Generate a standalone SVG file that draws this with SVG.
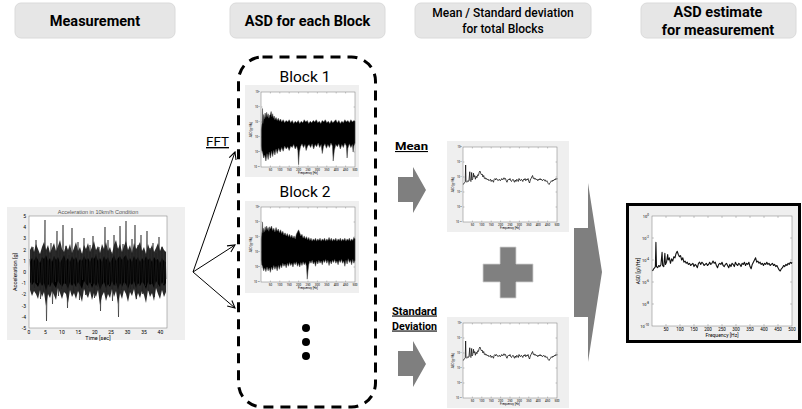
<svg xmlns="http://www.w3.org/2000/svg" xmlns:xlink="http://www.w3.org/1999/xlink" width="802" height="409" viewBox="0 0 802 409">
<style>
text{font-family:Roboto,"Liberation Sans",sans-serif;fill:#000}
.hb{fill:#e6e6e6;stroke:#dadada;stroke-width:1}
.ht{font-weight:700;font-size:14.5px;text-anchor:middle}
.panel{fill:#efefef}
.frame{fill:#fff;stroke:#777;stroke-width:0.5}
.tk{stroke:#777;stroke-width:0.4;fill:none}
.tl{font-family:"Liberation Sans",Arial,sans-serif;fill:#555;text-anchor:middle}
.tr{font-family:"Liberation Sans",Arial,sans-serif;fill:#555;text-anchor:end}
.curve{fill:none;stroke:#111;vector-effect:non-scaling-stroke;stroke-linejoin:round}
.noise{fill:#000;stroke:#444;stroke-width:0.5;vector-effect:non-scaling-stroke;stroke-linejoin:round}
.garrow{fill:#7f7f7f}
.lbl{font-weight:700;font-size:11px;text-decoration:underline}
.conn{stroke:#000;stroke-width:1;fill:none}
</style>
<defs>
<marker id="ah" viewBox="0 0 10 10" refX="9" refY="5" markerWidth="9" markerHeight="9" markerUnits="userSpaceOnUse" orient="auto">
<path d="M1,1 L9,5 L1,9" fill="none" stroke="#000" stroke-width="1.2"/>
</marker>
<path id="asd" class="curve" d="M2,50 L6,48 L10,47 L12,46 L14,24 L16,46 L20,47 L24,45 L28,46 L32,44 L36,33 L38,45 L42,46 L46,34 L48,44 L52,42 L56,35 L58,40 L62,38 L66,43 L70,39 L74,41 L78,37 L82,38 L86,34 L90,32 L94,35 L98,37 L102,36 L106,40 L110,38 L114,42 L118,41 L122,43 L126,42 L130,44 L134,43 L138,45 L142,44 L146,43 L150,46 L154,44 L158,45 L162,47 L166,43 L170,42 L174,44 L178,42 L182,43 L186,45 L190,44 L194,43 L198,45 L202,44 L206,42 L210,44 L214,43 L218,41 L222,43 L226,42 L230,45 L234,47 L238,44 L242,43 L246,44 L250,42 L254,45 L258,46 L262,44 L266,43 L270,45 L274,47 L278,44 L282,46 L286,43 L290,44 L294,46 L298,42 L302,44 L306,45 L310,43 L314,44 L318,46 L322,43 L326,44 L330,42 L334,45 L338,43 L342,44 L346,42 L350,46 L354,48 L358,44 L362,42 L366,40 L370,38 L374,42 L378,41 L382,43 L386,42 L390,44 L394,43 L398,45 L402,43 L406,44 L410,42 L414,44 L418,43 L422,45 L426,44 L430,43 L434,45 L438,44 L442,46 L446,45 L450,47 L454,49 L458,50 L462,48 L466,47 L470,45 L474,46 L478,44 L482,45 L486,43 L490,44 L494,42 L498,43 L500,42"/>
<path id="nz1" class="noise" d="M2,50 L6,40 L8,22 L10,42 L14,30 L18,36 L22,28 L26,34 L30,27 L34,33 L38,29 L42,35 L46,31 L50,30 L54,26 L58,33 L62,29 L66,35 L70,32 L74,37 L80,34 L86,38 L92,35 L98,39 L104,36 L110,40 L118,37 L126,41 L134,38 L142,40 L150,37 L158,41 L166,38 L174,42 L182,39 L190,41 L198,38 L206,42 L214,39 L222,41 L230,37 L238,40 L246,38 L254,42 L262,39 L270,41 L278,38 L286,40 L294,37 L302,41 L310,39 L318,42 L326,38 L334,40 L342,37 L350,41 L358,39 L366,42 L374,38 L382,41 L390,39 L398,37 L406,41 L414,38 L422,42 L430,39 L438,41 L446,37 L454,40 L462,38 L470,41 L478,37 L486,40 L494,38 L500,39 L500,68 L494,72 L490,80 L486,70 L478,74 L470,69 L462,75 L458,88 L454,72 L446,68 L438,74 L430,70 L422,76 L414,69 L406,73 L398,70 L390,78 L384,92 L380,72 L372,68 L364,74 L356,70 L348,75 L340,69 L332,73 L326,82 L320,70 L312,74 L304,68 L296,73 L288,70 L280,76 L272,69 L264,74 L256,70 L248,72 L240,78 L234,70 L226,74 L218,69 L210,73 L204,80 L200,97 L196,78 L190,72 L182,76 L174,70 L166,74 L158,72 L150,78 L142,73 L134,76 L126,72 L118,79 L110,74 L102,80 L94,75 L86,82 L80,76 L74,84 L68,78 L62,86 L56,79 L50,88 L44,80 L38,90 L32,82 L26,92 L20,84 L14,88 L8,80 L4,78 L2,72 Z"/>
<path id="nz2" class="noise" d="M2,42 L6,30 L8,20 L10,34 L14,28 L18,33 L22,26 L26,31 L30,25 L34,30 L38,27 L42,32 L46,26 L50,29 L56,25 L62,31 L68,28 L74,33 L80,27 L86,32 L92,29 L98,34 L104,30 L110,35 L116,32 L122,37 L128,34 L134,38 L140,35 L146,39 L152,36 L158,40 L164,37 L170,41 L176,38 L182,42 L188,36 L194,33 L200,30 L206,34 L212,38 L218,36 L224,41 L230,38 L236,42 L242,39 L248,43 L254,40 L260,44 L266,41 L272,45 L278,42 L284,44 L290,41 L296,45 L302,42 L308,44 L314,41 L320,45 L326,42 L332,44 L338,41 L344,45 L350,42 L356,44 L362,40 L368,44 L374,41 L380,45 L386,42 L392,44 L398,41 L404,45 L410,42 L416,44 L422,41 L428,45 L434,42 L440,44 L446,41 L452,45 L458,42 L464,44 L470,41 L476,45 L482,42 L488,44 L494,40 L500,42 L500,70 L494,74 L488,69 L482,76 L476,70 L470,73 L464,68 L458,75 L452,70 L446,78 L440,71 L434,74 L428,69 L422,73 L416,70 L410,76 L404,71 L398,74 L392,69 L386,73 L380,70 L374,75 L368,71 L362,77 L356,70 L350,74 L344,69 L338,73 L332,70 L326,76 L320,71 L314,74 L308,70 L302,75 L296,71 L290,78 L284,72 L278,75 L272,70 L266,74 L260,71 L254,76 L250,84 L246,95 L242,78 L236,73 L230,76 L224,72 L218,77 L212,73 L206,79 L200,74 L194,78 L188,72 L182,76 L176,73 L170,79 L164,74 L158,77 L152,73 L146,78 L140,74 L134,80 L128,75 L122,78 L116,74 L110,80 L104,76 L98,82 L92,77 L86,84 L80,78 L74,82 L68,77 L62,83 L56,79 L50,86 L44,80 L38,84 L32,79 L26,85 L20,80 L14,84 L8,78 L4,76 L2,70 Z"/>
<g id="ax94">
<rect class="frame" width="94" height="75"/>
<path class="tk" d="M9.4,75v-1.5M18.8,75v-1.5M28.2,75v-1.5M37.6,75v-1.5M47,75v-1.5M56.4,75v-1.5M65.8,75v-1.5M75.2,75v-1.5M84.6,75v-1.5M9.4,0v1.5M18.8,0v1.5M28.2,0v1.5M37.6,0v1.5M47,0v1.5M56.4,0v1.5M65.8,0v1.5M75.2,0v1.5M84.6,0v1.5M0,15h1.5M0,30h1.5M0,45h1.5M0,60h1.5M94,15h-1.5M94,30h-1.5M94,45h-1.5M94,60h-1.5"/>
<g class="tl" font-size="3">
<text x="9.4" y="78.6">50</text><text x="18.8" y="78.6">100</text><text x="28.2" y="78.6">150</text><text x="37.6" y="78.6">200</text><text x="47" y="78.6">250</text><text x="56.4" y="78.6">300</text><text x="65.8" y="78.6">350</text><text x="75.2" y="78.6">400</text><text x="84.6" y="78.6">450</text><text x="94" y="78.6">500</text>
<text x="47" y="82.2">Frequency [Hz]</text>
<text transform="translate(-9,37.5) rotate(-90)">ASD [g<tspan dy="-1" font-size="2">2</tspan><tspan dy="1">/Hz]</tspan></text>
</g>
<g class="tr" font-size="2.6">
<text x="-1.5" y="1">10<tspan dy="-1" font-size="1.8">0</tspan></text>
<text x="-1.5" y="16">10<tspan dy="-1" font-size="1.8">-2</tspan></text>
<text x="-1.5" y="31">10<tspan dy="-1" font-size="1.8">-4</tspan></text>
<text x="-1.5" y="46">10<tspan dy="-1" font-size="1.8">-6</tspan></text>
<text x="-1.5" y="61">10<tspan dy="-1" font-size="1.8">-8</tspan></text>
<text x="-1.5" y="76">10<tspan dy="-1" font-size="1.8">-10</tspan></text>
</g>
</g>
</defs>

<rect width="802" height="409" fill="#fff"/>

<!-- Headers -->
<g id="hdr-measurement">
<rect class="hb" x="15" y="3" width="160" height="35" rx="6"/>
<text class="ht" x="95" y="26">Measurement</text>
</g>
<g id="hdr-asd-block">
<rect class="hb" x="230" y="3" width="155" height="35" rx="6"/>
<text class="ht" x="307.5" y="26">ASD for each Block</text>
</g>
<g id="hdr-mean-std">
<rect class="hb" x="415" y="3" width="176" height="35" rx="6"/>
<text x="503" y="16.5" font-size="12" font-weight="500" text-anchor="middle">Mean / Standard deviation</text>
<text x="503" y="32.5" font-size="12" font-weight="500" text-anchor="middle">for total Blocks</text>
</g>
<g id="hdr-asd-estimate">
<rect class="hb" x="641" y="3" width="155" height="35" rx="6"/>
<text class="ht" x="718" y="17">ASD estimate</text>
<text class="ht" x="718" y="35">for measurement</text>
</g>

<!-- Measurement plot -->
<g id="measurement-plot">
<rect class="panel" x="7" y="207" width="178" height="133"/>
<rect class="frame" x="29" y="216" width="138" height="112"/>
<text class="tl" x="98" y="214.2" font-size="5.5">Acceleration in 10km/h Condition</text>
<path fill="#2a2a2a" d="M30,250 L32,246 L34,252 L36,244 L38,249 L40,254 L42,247 L44,242 L46,250 L48,245 L50,253 L52,248 L54,243 L56,251 L58,246 L60,240 L62,249 L64,252 L66,245 L68,250 L70,244 L72,253 L74,248 L76,242 L78,251 L80,247 L82,254 L84,245 L86,249 L88,243 L90,252 L92,247 L94,241 L96,250 L98,246 L100,253 L102,244 L104,249 L106,242 L108,251 L110,247 L112,254 L114,245 L116,240 L118,249 L120,244 L122,252 L124,246 L126,241 L128,250 L130,245 L132,253 L134,243 L136,249 L138,246 L140,242 L142,251 L144,247 L146,254 L148,244 L150,250 L152,245 L154,252 L156,248 L158,243 L160,251 L162,246 L164,250 L166,252 L166,292 L164,297 L162,290 L160,299 L158,294 L156,288 L154,301 L152,293 L150,297 L148,290 L146,303 L144,295 L142,291 L140,298 L138,293 L136,300 L134,289 L132,296 L130,292 L128,302 L126,294 L124,290 L122,299 L120,293 L118,304 L116,291 L114,297 L112,289 L110,298 L108,294 L106,301 L104,292 L102,296 L100,305 L98,290 L96,297 L94,293 L92,300 L90,291 L88,298 L86,294 L84,289 L82,302 L80,295 L78,291 L76,299 L74,293 L72,297 L70,290 L68,303 L66,294 L64,292 L62,299 L60,293 L58,288 L56,300 L54,295 L52,291 L50,298 L48,294 L46,306 L44,292 L42,297 L40,290 L38,299 L36,294 L34,291 L32,296 L30,290 Z"/>
<path fill="#000" d="M30,262 L32,258 L34,261 L36,256 L38,260 L40,263 L42,257 L44,259 L46,255 L48,261 L50,258 L52,262 L54,256 L56,260 L58,257 L60,263 L62,259 L64,255 L66,261 L68,258 L70,262 L72,256 L74,260 L76,257 L78,263 L80,259 L82,261 L84,256 L86,260 L88,258 L90,262 L92,257 L94,259 L96,255 L98,261 L100,258 L102,262 L104,256 L106,260 L108,257 L110,263 L112,259 L114,255 L116,261 L118,258 L120,256 L122,260 L124,257 L126,255 L128,261 L130,258 L132,262 L134,256 L136,260 L138,257 L140,262 L142,258 L144,261 L146,256 L148,260 L150,258 L152,262 L154,257 L156,260 L158,259 L160,263 L162,258 L164,261 L166,262 L166,283 L164,286 L162,282 L160,287 L158,284 L156,281 L154,288 L152,283 L150,285 L148,282 L146,289 L144,284 L142,282 L140,286 L138,283 L136,288 L134,281 L132,285 L130,283 L128,289 L126,284 L124,282 L122,287 L120,283 L118,290 L116,282 L114,286 L112,281 L110,287 L108,284 L106,288 L104,282 L102,285 L100,290 L98,282 L96,286 L94,283 L92,288 L90,282 L88,286 L86,284 L84,281 L82,289 L80,285 L78,282 L76,287 L74,283 L72,286 L70,282 L68,289 L66,284 L64,283 L62,287 L60,284 L58,281 L56,288 L54,285 L52,282 L50,287 L48,284 L46,291 L44,283 L42,286 L40,282 L38,287 L36,284 L34,282 L32,285 L30,282 Z"/>
<path fill="none" stroke="#222" stroke-width="0.6" transform="translate(0,-1)" d="M30,260 L31.5,286 L33,248 L34.5,289 L36,241 L37.5,284 L39,255 L40.5,300 L42,252 L43.5,292 L45,221 L46.5,322 L48,249 L49.5,288 L51,244 L52.5,305 L54,258 L55.5,283 L57,232 L58.5,297 L60,251 L61.5,290 L63,226 L64.5,284 L66,247 L67.5,309 L69,256 L70.5,286 L72,229 L73.5,293 L75,250 L76.5,287 L78,243 L79.5,301 L81,254 L82.5,281 L84,239 L85.5,296 L87,252 L88.5,289 L90,246 L91.5,285 L93,237 L94.5,299 L96,255 L97.5,288 L99,248 L100.5,312 L102,250 L103.5,284 L105,228 L106.5,293 L108,241 L109.5,286 L111,253 L112.5,302 L114,236 L115.5,287 L117,249 L118.5,318 L120,227 L121.5,291 L123,245 L124.5,286 L126,222 L127.5,297 L129,251 L130.5,290 L132,240 L133.5,289 L135,226 L136.5,300 L138,246 L139.5,286 L141,236 L142.5,295 L144,252 L145.5,287 L147,232 L148.5,292 L150,249 L151.5,284 L153,244 L154.5,298 L156,254 L157.5,288 L159,238 L160.5,293 L162,248 L163.5,285 L165,253 L166,280"/>
<g class="tr" font-size="5">
<text x="26" y="218">5</text><text x="26" y="229.2">4</text><text x="26" y="240.4">3</text><text x="26" y="251.6">2</text><text x="26" y="262.8">1</text><text x="26" y="274">0</text><text x="26" y="285.2">-1</text><text x="26" y="296.4">-2</text><text x="26" y="307.6">-3</text><text x="26" y="318.8">-4</text><text x="26" y="330">-5</text>
</g>
<g class="tl" font-size="5">
<text x="29" y="334">0</text><text x="45.4" y="334">5</text><text x="61.9" y="334">10</text><text x="78.3" y="334">15</text><text x="94.7" y="334">20</text><text x="111.1" y="334">25</text><text x="127.6" y="334">30</text><text x="144" y="334">35</text><text x="160.4" y="334">40</text>
<text x="98" y="339.5" font-size="5.5">Time [sec]</text>
<text transform="translate(17,272) rotate(-90)" font-size="5.5">Acceleration [g]</text>
</g>
</g>

<!-- FFT label -->
<text x="206" y="146" font-size="13.5" text-decoration="underline" textLength="23" lengthAdjust="spacingAndGlyphs">FFT</text>

<!-- Block container -->
<g id="block-container">
<rect x="238.5" y="57" width="137" height="350" rx="24" fill="none" stroke="#000" stroke-width="3" stroke-dasharray="10 7"/>
</g>

<g id="block1">
<text x="305" y="82" font-size="15.5" text-anchor="middle">Block 1</text>
<rect class="panel" x="245" y="85" width="114" height="92"/>
<use xlink:href="#ax94" x="261" y="92"/>
<use xlink:href="#nz1" transform="translate(261,92) scale(0.188,0.75)"/>
</g>

<g id="block2">
<text x="305" y="197" font-size="15.5" text-anchor="middle">Block 2</text>
<rect class="panel" x="245" y="201" width="114" height="92"/>
<use xlink:href="#ax94" x="261" y="207"/>
<use xlink:href="#nz2" transform="translate(261,207) scale(0.188,0.76)"/>
</g>

<g id="more-blocks">
<circle cx="306" cy="328" r="4"/>
<circle cx="306" cy="342" r="4"/>
<circle cx="306" cy="356" r="4"/>
</g>

<!-- Mean -->
<g id="mean">
<text class="lbl" x="395" y="150" textLength="33" lengthAdjust="spacingAndGlyphs">Mean</text>
<polygon class="garrow" points="398,177 413,177 413,167 426,190 413,213 413,202 398,202"/>
<rect class="panel" x="447" y="141" width="122" height="91"/>
<use xlink:href="#ax94" x="463" y="147"/>
<use xlink:href="#asd" transform="translate(463,147) scale(0.188,0.75)" style="stroke-width:0.8"/>
</g>

<!-- Standard deviation -->
<g id="std">
<text class="lbl" x="392" y="314.5" textLength="45" lengthAdjust="spacingAndGlyphs">Standard</text>
<text class="lbl" x="392" y="329.5" textLength="45" lengthAdjust="spacingAndGlyphs">Deviation</text>
<polygon class="garrow" points="398,351 413,351 413,341 426,364 413,387 413,376 398,376"/>
<rect class="panel" x="447" y="317" width="122" height="91"/>
<use xlink:href="#ax94" x="463" y="323"/>
<use xlink:href="#asd" transform="translate(463,323) scale(0.188,0.75)" style="stroke-width:0.8"/>
</g>

<g id="plus">
<path d="M500,247 H516 V264 H533 V282 H516 V298 H500 V282 H483 V264 H500 Z" fill="#808080" stroke="#d0d0d0" stroke-width="0.8"/>
</g>

<g id="big-arrow">
<polygon class="garrow" points="574,228 588,228 588,183 602,272 588,362 588,317 574,317"/>
</g>

<!-- Final ASD estimate -->
<g id="asd-estimate">
<rect x="627.5" y="204.5" width="172" height="137" fill="#efefef" stroke="#000" stroke-width="3"/>
<rect class="frame" x="652" y="216" width="140" height="110"/>
<path class="tk" transform="translate(652,216)" d="M14,110v-2M28,110v-2M42,110v-2M56,110v-2M70,110v-2M84,110v-2M98,110v-2M112,110v-2M126,110v-2M14,0v2M28,0v2M42,0v2M56,0v2M70,0v2M84,0v2M98,0v2M112,0v2M126,0v2M0,22h2M0,44h2M0,66h2M0,88h2M140,22h-2M140,44h-2M140,66h-2M140,88h-2"/>
<use xlink:href="#asd" transform="translate(652,216) scale(0.28,1.1)" style="stroke-width:1.1"/>
<g class="tl" font-size="4.5">
<text x="666" y="331">50</text><text x="680" y="331">100</text><text x="694" y="331">150</text><text x="708" y="331">200</text><text x="722" y="331">250</text><text x="736" y="331">300</text><text x="750" y="331">350</text><text x="764" y="331">400</text><text x="778" y="331">450</text><text x="792" y="331">500</text>
<text x="722" y="337" font-size="5">Frequency [Hz]</text>
<text transform="translate(640,271) rotate(-90)" font-size="5">ASD [g<tspan dy="-1.5" font-size="3.5">2</tspan><tspan dy="1.5">/Hz]</tspan></text>
</g>
<g class="tr" font-size="4">
<text x="649" y="217.5">10<tspan dy="-1.5" font-size="3">0</tspan></text>
<text x="649" y="239.5">10<tspan dy="-1.5" font-size="3">-2</tspan></text>
<text x="649" y="261.5">10<tspan dy="-1.5" font-size="3">-4</tspan></text>
<text x="649" y="283.5">10<tspan dy="-1.5" font-size="3">-6</tspan></text>
<text x="649" y="305.5">10<tspan dy="-1.5" font-size="3">-8</tspan></text>
<text x="649" y="327.5">10<tspan dy="-1.5" font-size="3">-10</tspan></text>
</g>
</g>

<!-- Connectors -->
<g id="connectors">
<line class="conn" x1="193" y1="272" x2="235" y2="152" marker-end="url(#ah)"/>
<line class="conn" x1="193" y1="272" x2="235" y2="245" marker-end="url(#ah)"/>
<line class="conn" x1="193" y1="272" x2="235" y2="308" marker-end="url(#ah)"/>
</g>
</svg>
